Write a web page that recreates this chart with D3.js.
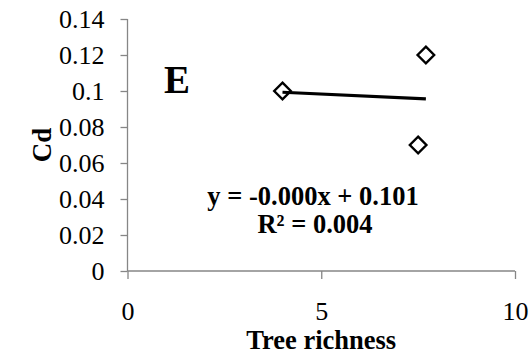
<!DOCTYPE html>
<html>
<head>
<meta charset="utf-8">
<script src="https://cdn.jsdelivr.net/npm/d3@7"></script>
<style>
  body { margin: 0; background: #fff; }
  text { font-family: "Liberation Serif", "Times New Roman", serif; }
</style>
</head>
<body>
<div id="chart"></div>
<script>
// data
const richness = [4, 7.5, 7.7];
const cd = [0.10, 0.07, 0.12];
const trendX = [4, 7.7];
const trendY = [0.0993, 0.0956];
const xTicks = [0, 5, 10];
const yTicks = [0, 0.02, 0.04, 0.06, 0.08, 0.1, 0.12, 0.14];
const equation = ["y = -0.000x + 0.101", "R² = 0.004"];

const W = 531, H = 355;
const margin = { top: 19, right: 16, bottom: 84, left: 127.5 };
const serif = "'Liberation Serif', 'Times New Roman', serif";

const svg = d3.select("#chart").append("svg")
  .attr("width", W).attr("height", H);

const x = d3.scaleLinear().domain([0, 10]).range([margin.left, W - margin.right]);
const y = d3.scaleLinear().domain([0, 0.14]).range([H - margin.bottom, margin.top]);

const axisColor = "#868686";

// y axis
const yAxis = svg.append("g")
  .attr("transform", `translate(${margin.left},0)`)
  .call(d3.axisLeft(y).tickValues(yTicks).tickSize(7).tickPadding(16)
    .tickFormat(d => d === 0 ? "0" : String(+d.toFixed(2))));
yAxis.attr("font-family", serif).attr("font-size", 26);
yAxis.select(".domain").attr("stroke", axisColor).attr("stroke-width", 1.3)
  .attr("d", `M0,${y(0.14)}V${y(0)}`);
yAxis.selectAll(".tick line").attr("stroke", axisColor).attr("stroke-width", 1.3);
yAxis.selectAll(".tick text")
  .style("font-family", serif).style("font-size", "26px").attr("fill", "#000")
  .attr("dy", "0.34em");

// x axis
const xAxis = svg.append("g")
  .attr("transform", `translate(0,${y(0)})`)
  .call(d3.axisBottom(x).tickValues(xTicks).tickSize(8).tickPadding(23));
xAxis.attr("font-family", serif).attr("font-size", 26);
xAxis.select(".domain").attr("stroke", axisColor).attr("stroke-width", 1.3)
  .attr("d", `M${x(0)},0H${x(10)}`);
xAxis.selectAll(".tick line").attr("stroke", axisColor).attr("stroke-width", 1.3);
xAxis.selectAll(".tick text")
  .style("font-family", serif).style("font-size", "26px").attr("fill", "#000");

// axis titles
svg.append("text")
  .attr("x", x(5)).attr("y", 349)
  .attr("text-anchor", "middle")
  .style("font-size", "26.5px").attr("font-weight", "bold")
  .text("Tree richness");

svg.append("text")
  .attr("transform", `translate(51,${y(0.07)}) rotate(-90)`)
  .attr("text-anchor", "middle")
  .style("font-size", "27px").attr("font-weight", "bold")
  .text("Cd");

// panel letter
svg.append("text")
  .attr("x", 164).attr("y", 93)
  .style("font-size", "39px").attr("font-weight", "bold")
  .text("E");

// trend line
const line = d3.line().x(d => x(d[0])).y(d => y(d[1]));

// points
const diamond = d3.symbol().type(d3.symbolDiamond2).size(175);
svg.append("g").selectAll("path")
  .data(d3.zip(richness, cd))
  .join("path")
  .attr("transform", d => `translate(${x(d[0])},${y(d[1])})`)
  .attr("d", diamond)
  .attr("fill", "#fff").attr("stroke", "#000").attr("stroke-width", 2.4);

// line drawn over the markers, as in the reference
svg.append("path")
  .attr("d", line(d3.zip(trendX, trendY)))
  .attr("stroke", "#000").attr("stroke-width", 3.2).attr("fill", "none");

// regression equation
svg.append("text")
  .attr("x", 313).attr("y", 205)
  .attr("text-anchor", "middle")
  .style("font-size", "26.5px").attr("font-weight", "bold")
  .text(equation[0]);
svg.append("text")
  .attr("x", 315).attr("y", 233)
  .attr("text-anchor", "middle")
  .style("font-size", "26.5px").attr("font-weight", "bold")
  .text(equation[1]);
</script>
</body>
</html>
